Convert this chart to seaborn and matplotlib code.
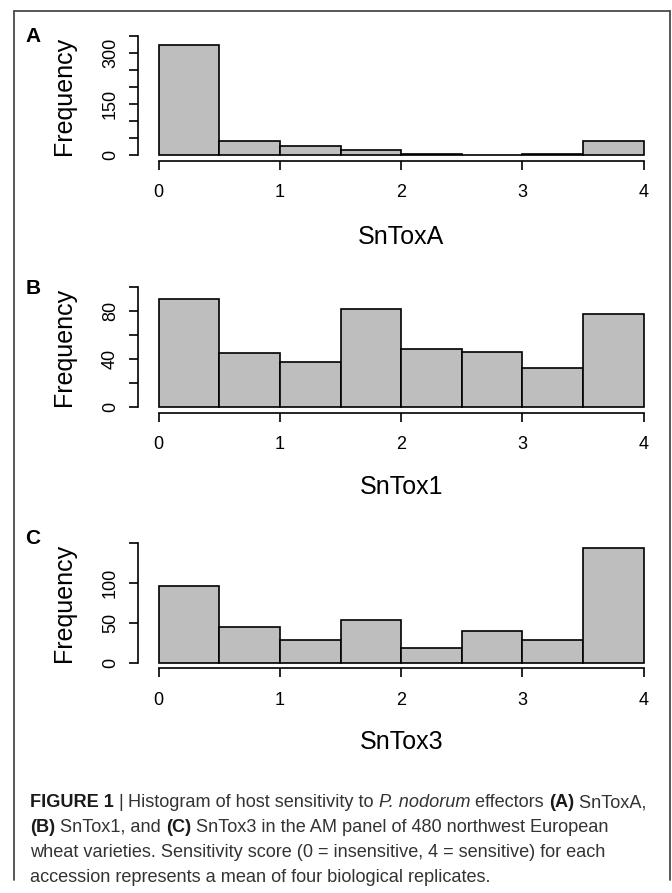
"""Histograms of host sensitivity to P. nodorum effectors (three stacked panels)."""

import matplotlib
matplotlib.use("Agg")
import matplotlib.pyplot as plt
import numpy as np
import seaborn as sns
from matplotlib import font_manager
from matplotlib.lines import Line2D

# bin edges shared by all three panels (sensitivity score 0-4, width 0.5)
BIN_EDGES = [0, 0.5, 1, 1.5, 2, 2.5, 3, 3.5, 4]

# counts per bin
SNTOXA_COUNTS = [322, 41, 27, 16, 4, 1, 4, 41]
SNTOX1_COUNTS = [90, 45, 38, 82, 49, 46, 33, 78]
SNTOX3_COUNTS = [96, 45, 28, 54, 19, 40, 28, 144]

PANEL_LETTERS = ["A", "B", "C"]
PANEL_NAMES = ["SnToxA", "SnTox1", "SnTox3"]

# y ticks and their labels (R skips some labels)
SNTOXA_YTICKS = [0, 50, 100, 150, 200, 250, 300, 350]
SNTOXA_YLABELS = ["0", "", "", "150", "", "", "300", ""]
SNTOX1_YTICKS = [0, 20, 40, 60, 80, 100]
SNTOX1_YLABELS = ["0", "", "40", "", "80", ""]
SNTOX3_YTICKS = [0, 50, 100, 150]
SNTOX3_YLABELS = ["0", "50", "100", ""]

X_TICKS = [0, 1, 2, 3, 4]

CAPTION = [
    [("FIGURE 1", "bold", "normal"), (" | ", "normal", "normal"),
     ("Histogram of host sensitivity to ", "normal", "normal"),
     ("P. nodorum", "normal", "italic"), (" effectors ", "normal", "normal"),
     ("(A)", "bold", "normal"), (" SnToxA,", "normal", "normal")],
    [("(B)", "bold", "normal"), (" SnTox1, and ", "normal", "normal"),
     ("(C)", "bold", "normal"),
     (" SnTox3 in the AM panel of 480 northwest European", "normal", "normal")],
    [("wheat varieties. Sensitivity score (0 = insensitive, 4 = sensitive) for each",
      "normal", "normal")],
    [("accession represents a mean of four biological replicates.", "normal", "normal")],
]

W, H = 672, 893

sns.set_theme(style="ticks")
plt.rcParams["font.family"] = ["Liberation Sans", "DejaVu Sans"]

available = {f.name for f in font_manager.fontManager.ttflist}
cap_family = "Liberation Sans Narrow" if "Liberation Sans Narrow" in available else "Liberation Sans"

fig = plt.figure(figsize=(W / 100, H / 100), dpi=100)
fig.patch.set_facecolor("white")


def px_axes(left, right, zero_y, top_y):
    return fig.add_axes([left / W, 1 - zero_y / H, (right - left) / W, (zero_y - top_y) / H])


# counts, ticks, tick labels, pixel y of zero, pixel y of top tick, letter y, xlabel y
panels = [
    (SNTOXA_COUNTS, SNTOXA_YTICKS, SNTOXA_YLABELS, 155.3, 35.7, 36, 237),
    (SNTOX1_COUNTS, SNTOX1_YTICKS, SNTOX1_YLABELS, 407.3, 287.3, 288, 486.7),
    (SNTOX3_COUNTS, SNTOX3_YTICKS, SNTOX3_YLABELS, 662.7, 543.3, 538, 741.7),
]

centers = (np.array(BIN_EDGES[:-1]) + np.array(BIN_EDGES[1:])) / 2

for (counts, yticks, ylabels, zero_y, top_y, letter_y, label_y), letter, name in zip(
    panels, PANEL_LETTERS, PANEL_NAMES
):
    ax = px_axes(158.6, 643.7, zero_y, top_y)
    sns.histplot(
        x=centers, weights=counts, bins=BIN_EDGES, ax=ax,
        color="#bebebe", edgecolor="black", linewidth=1.2, alpha=1,
    )
    for p in ax.patches:
        p.set_clip_on(False)
    ax.set_xlim(0, 4)
    ax.set_ylim(0, yticks[-1])
    ax.set_facecolor("white")
    ax.grid(False)

    for side in ("top", "right"):
        ax.spines[side].set_visible(False)
    ax.spines["left"].set_position(("outward", 15))
    ax.spines["left"].set_bounds(0, yticks[-1])
    ax.spines["bottom"].set_position(("outward", 4))
    ax.spines["bottom"].set_bounds(0, 4)
    for side in ("left", "bottom"):
        ax.spines[side].set_linewidth(1.2)
        ax.spines[side].set_color("black")

    ax.set_xticks(X_TICKS)
    ax.set_xticklabels([str(t) for t in X_TICKS])
    ax.set_yticks(yticks)
    ax.set_yticklabels(ylabels)
    ax.tick_params(axis="both", direction="out", length=6.5, width=1.2,
                   color="black", labelsize=13, labelcolor="black")
    ax.tick_params(axis="x", pad=10.5)
    ax.tick_params(axis="y", pad=7, labelrotation=90)
    for lbl in ax.get_yticklabels():
        lbl.set_va("center")

    ax.set_xlabel(name, fontsize=18, color="black")
    ax.xaxis.set_label_coords(0.5, (zero_y - label_y) / (zero_y - top_y))
    ax.xaxis.label.set_va("center")
    ax.set_ylabel("Frequency", fontsize=18, color="black")
    ax.yaxis.set_label_coords((63.5 - 158.6) / (643.7 - 158.6), 0.5)
    ax.yaxis.label.set(va="center", ha="center", rotation_mode="default")

    fig.text(33 / W, 1 - letter_y / H, letter, fontsize=15, fontweight="bold",
             ha="center", va="center", color="black")

# frame around the figure (open at the bottom)
frame_kw = dict(color="#4a4a4a", linewidth=1.3, transform=fig.transFigure)
fig.add_artist(Line2D([13.5 / W, 13.5 / W], [1 - 880 / H, 1 - 11 / H], **frame_kw))
fig.add_artist(Line2D([13.5 / W, 669.5 / W], [1 - 11 / H, 1 - 11 / H], **frame_kw))
fig.add_artist(Line2D([669.5 / W, 669.5 / W], [1 - 880 / H, 1 - 11 / H], **frame_kw))

# caption, drawn run by run so bold / italic pieces line up
renderer = fig.canvas.get_renderer()


def line_width(runs, size):
    total = 0
    for text, weight, style in runs:
        t = fig.text(0, 0, text, fontsize=size, fontweight=weight, fontstyle=style,
                     family=[cap_family, "DejaVu Sans"])
        total += t.get_window_extent(renderer).width
        t.remove()
    return total


size = 13.5
w0 = line_width(CAPTION[0], size)
size = size * 617 / w0

baselines = [807, 832, 857, 882]
for runs, base in zip(CAPTION, baselines):
    x = 30.0
    for text, weight, style in runs:
        t = fig.text(x / W, 1 - base / H, text, fontsize=size, fontweight=weight,
                     fontstyle=style, family=[cap_family, "DejaVu Sans"],
                     color="#1a1a1a" if weight == "bold" else "#333333",
                     ha="left", va="baseline")
        x += t.get_window_extent(renderer).width

fig.savefig("out.png", dpi=100, facecolor="white")
